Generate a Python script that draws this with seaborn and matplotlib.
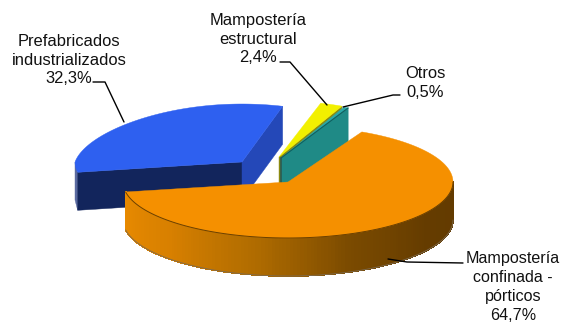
import numpy as np
import matplotlib
matplotlib.use("Agg")
import matplotlib.pyplot as plt
import seaborn as sns

# data
categories = ["Mampostería\nconfinada -\npórticos", "Prefabricados\nindustrializados",
              "Mampostería\nestructural", "Otros"]
shares = [64.7, 32.3, 2.4, 0.5]

# styling / layout
START = 63.4
DEPTH = 38
tops = ["#f59000", "#2e60f0", "#f2f000", "#2aa8a8"]
faces = ["#7a4a00", "#12255c", "#8c8a10", "#1f8a86"]
geom = [dict(c=(288, 182), rx=165, ry=56, taper=0.0),
        dict(c=(242, 162), rx=167, ry=58, taper=0.13),
        dict(c=(279, 157), rx=150, ry=56, taper=0.0),
        dict(c=(281, 158), rx=150, ry=56, taper=0.0)]

sns.set_theme(style="white")
plt.rcParams["font.family"] = ["Liberation Sans", "DejaVu Sans"]
fig, ax = plt.subplots(figsize=(5.61, 3.22), dpi=100)
ax.set_position([0, 0, 1, 1])
ax.set_xlim(0, 561)
ax.set_ylim(322, 0)
ax.axis("off")


def pt(g, a):
    t = np.radians(a)
    k = 1 - g["taper"] * np.maximum(np.sin(t), 0)
    return g["c"][0] + g["rx"] * np.cos(t) * k, g["c"][1] - g["ry"] * np.sin(t)


def arc(g, a0, a1, n=120):
    x, y = pt(g, np.linspace(a0, a1, n))
    return np.column_stack([x, y])


def quad(p, q, color, z, aa=True):
    poly = np.array([p, q, (q[0], q[1] + DEPTH), (p[0], p[1] + DEPTH)])
    ax.fill(poly[:, 0], poly[:, 1], color=color, lw=0.6 if not aa else 0.3,
            zorder=z, antialiased=aa)


total = sum(shares)
edges = START - np.cumsum([0] + shares) * 360 / total
spans = list(zip(edges[:-1], edges[1:]))  # clockwise, (from, to)


def top(i, z):
    g = geom[i]
    a0, a1 = spans[i]
    poly = np.vstack([[g["c"]], arc(g, a0, a1)])
    ax.fill(poly[:, 0], poly[:, 1], color=tops[i], lw=0.3, zorder=z)


# prefabricados: outer sliver, cut faces, top
g = geom[1]
a_end, a_start = spans[1]
quad(g["c"], pt(g, a_end), faces[1], 1)
quad(g["c"], pt(g, a_start), "#2448b8", 1)
quad(pt(g, 180), pt(g, a_end), "#5a6aa0", 0.5)
top(1, 2)

# mampostería estructural
g = geom[2]
quad(g["c"], pt(g, spans[2][1]), faces[2], 3)
top(2, 4)

# otros
g = geom[3]
top(3, 5)
quad(g["c"], pt(g, spans[3][1]), faces[3], 6)
ax.plot(*zip(g["c"], pt(g, spans[3][1])), color="#0f5f5f", lw=0.8, zorder=6.5)
ax.plot([g["c"][0]] * 2, [g["c"][1], g["c"][1] + DEPTH], color="#2d5a50", lw=1.2, zorder=6.5)

# confinada: shaded wall along the front, then top
g = geom[0]
a0 = spans[0][1]
wall = np.linspace(a0, 0, 140)
shade = sns.blend_palette(["#e88a00", "#d88000", "#b06c00", "#7a4a00", "#653c00", "#633b00"], 140)
for j in range(len(wall) - 1):
    s = arc(g, wall[j], wall[j + 1], 2)
    quad(s[0], s[1], shade[j], 7, aa=False)
top(0, 8)
edge = arc(g, a0, 0)
ax.plot(edge[:, 0], edge[:, 1], color="#6a4000", lw=0.7, zorder=9)
ax.plot(edge[:, 0], edge[:, 1] + DEPTH, color="#7c6a50", lw=0.6, zorder=8.5)

# labels
lab = [f"{c}\n{str(v).replace('.', ',')}%" for c, v in zip(categories, shares)]
spots = [(513, 287), (69, 60), (258, 39), (425, 83)]
sizes = [11.6, 11.9, 11.9, 11.9]
for s, (x, y), fs in zip(lab, spots, sizes):
    ax.text(x, y, s, ha="center", va="center", fontsize=fs, color="#111111",
            linespacing=1.33, zorder=20)

# leader lines
leaders = [([388, 407, 463], [259, 262, 263]),
           ([93, 105, 124], [82, 82, 122]),
           ([280, 290, 327], [62, 62, 105]),
           ([343, 393, 400], [107, 95, 95])]
for xs, ys in leaders:
    ax.plot(xs, ys, color="black", lw=1.0, zorder=15)

fig.savefig("out.png", dpi=100)
